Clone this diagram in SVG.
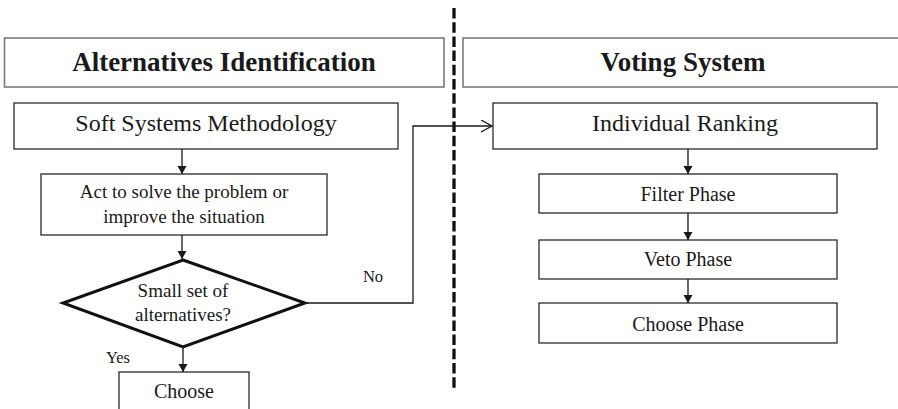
<svg xmlns="http://www.w3.org/2000/svg" width="898" height="409" viewBox="0 0 898 409">
  <style>
    .hdr { fill: #fff; stroke: #7a7a7a; stroke-width: 1.6; }
    .box { fill: #fff; stroke: #2a2a2a; stroke-width: 1.3; }
    .dia { fill: #fff; stroke: #111; stroke-width: 3; stroke-linejoin: miter; }
    .t { font-family: "Liberation Serif", "Times New Roman", serif; fill: #1a1a1a; text-anchor: middle; }
    .title { font-size: 27px; font-weight: bold; }
    .big { font-size: 24px; }
    .mid { font-size: 20px; }
    .sm { font-size: 19px; }
    .lbl { font-size: 16.5px; }
    .edge { fill: none; stroke: #1a1a1a; stroke-width: 1.3; }
  </style>
  <defs>
    <marker id="fill-arrow" markerWidth="10" markerHeight="10" refX="8" refY="4.5" orient="auto" markerUnits="userSpaceOnUse">
      <path d="M0,0 L8,4.5 L0,9 Z" fill="#1a1a1a"/>
    </marker>
    <marker id="open-arrow" markerWidth="14" markerHeight="14" refX="11" refY="6" orient="auto" markerUnits="userSpaceOnUse">
      <path d="M0,0 L11,6 L0,12" fill="none" stroke="#1a1a1a" stroke-width="1.3"/>
    </marker>
  </defs>

  <rect width="898" height="409" fill="#fff"/>

  <!-- section headers -->
  <g id="header-alternatives">
    <rect class="hdr" x="4.5" y="38" width="439.5" height="49"/>
    <text class="t title" x="224" y="71">Alternatives Identification</text>
  </g>
  <g id="header-voting">
    <rect class="hdr" x="463" y="38" width="440" height="49"/>
    <text class="t title" x="683" y="71">Voting System</text>
  </g>

  <!-- divider between the two stages -->
  <line x1="454" y1="8" x2="454" y2="390" stroke="#111" stroke-width="3.3" stroke-dasharray="10.5 3.7"/>

  <!-- left column -->
  <g id="ssm">
    <rect class="box" x="14" y="103" width="384" height="46"/>
    <text class="t big" x="206" y="131">Soft Systems Methodology</text>
  </g>
  <g id="act">
    <rect class="box" x="41" y="174" width="286" height="61"/>
    <text class="t sm" x="184" y="198">Act to solve the problem or</text>
    <text class="t sm" x="184" y="223">improve the situation</text>
  </g>
  <g id="decision">
    <polygon class="dia" points="183,260 305,303 183,347 63,303"/>
    <text class="t sm" x="183" y="297">Small set of</text>
    <text class="t sm" x="183" y="321">alternatives?</text>
  </g>
  <g id="choose">
    <rect class="box" x="119" y="372" width="130" height="50"/>
    <text class="t mid" x="184" y="398">Choose</text>
  </g>

  <!-- right column -->
  <g id="individual-ranking">
    <rect class="box" x="493" y="103" width="384" height="46"/>
    <text class="t big" x="685" y="131">Individual Ranking</text>
  </g>
  <g id="filter">
    <rect class="box" x="539" y="174" width="298" height="39"/>
    <text class="t mid" x="688" y="201">Filter Phase</text>
  </g>
  <g id="veto">
    <rect class="box" x="539" y="240" width="298" height="39"/>
    <text class="t mid" x="688" y="266">Veto Phase</text>
  </g>
  <g id="choose-phase">
    <rect class="box" x="539" y="303" width="298" height="40"/>
    <text class="t mid" x="688" y="331">Choose Phase</text>
  </g>

  <!-- connectors -->
  <g id="connectors">
    <line class="edge" x1="182" y1="149" x2="182" y2="174" marker-end="url(#fill-arrow)"/>
    <line class="edge" x1="182" y1="235" x2="182" y2="259" marker-end="url(#fill-arrow)"/>
    <line class="edge" x1="183" y1="348" x2="183" y2="372" marker-end="url(#fill-arrow)"/>
    <polyline class="edge" points="305,303 413,303 413,126 492,126" marker-end="url(#open-arrow)"/>
    <line class="edge" x1="688" y1="149" x2="688" y2="174" marker-end="url(#fill-arrow)"/>
    <line class="edge" x1="688" y1="213" x2="688" y2="240" marker-end="url(#fill-arrow)"/>
    <line class="edge" x1="688" y1="279" x2="688" y2="303" marker-end="url(#fill-arrow)"/>
    <text class="t lbl" x="118" y="363">Yes</text>
    <text class="t lbl" x="373" y="282">No</text>
  </g>
</svg>
